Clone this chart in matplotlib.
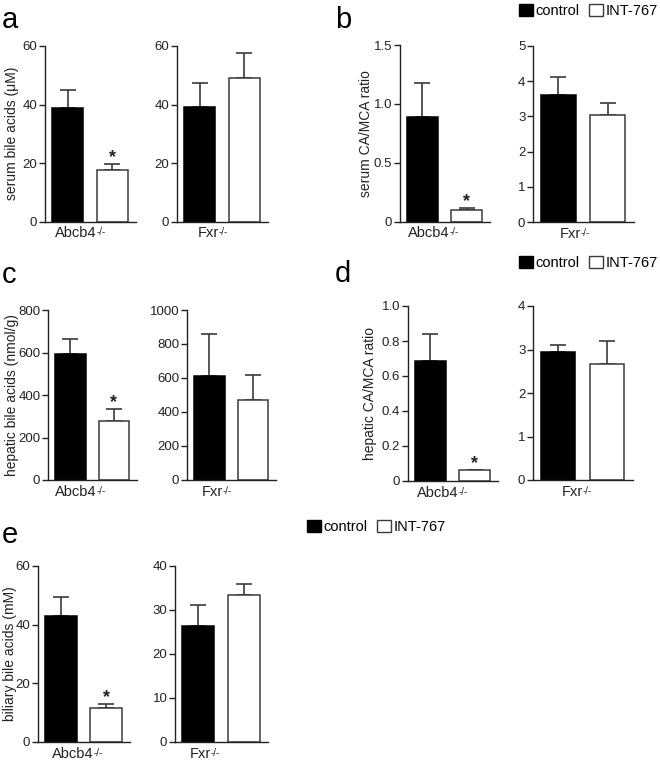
import numpy as np
import matplotlib
matplotlib.use("Agg")
import matplotlib.pyplot as plt
from matplotlib.patches import Patch

plt.rcParams['font.family'] = ['Liberation Sans', 'DejaVu Sans']

#Datos (media y error de cada grupo: control, INT-767)
treatments = ['control', 'INT-767']
strains = ['Abcb4', 'Fxr']
strain_sup = '-/-'

serum_ba_abcb4 = [38.8, 17.6]
serum_ba_abcb4_err = [6.0, 2.1]
serum_ba_fxr = [39.0, 49.2]
serum_ba_fxr_err = [8.3, 8.4]

serum_ratio_abcb4 = [0.89, 0.10]
serum_ratio_abcb4_err = [0.29, 0.017]
serum_ratio_fxr = [3.61, 3.05]
serum_ratio_fxr_err = [0.52, 0.32]

hepatic_ba_abcb4 = [595, 278]
hepatic_ba_abcb4_err = [70, 58]
hepatic_ba_fxr = [612, 472]
hepatic_ba_fxr_err = [245, 147]

hepatic_ratio_abcb4 = [0.685, 0.06]
hepatic_ratio_abcb4_err = [0.155, 0.004]
hepatic_ratio_fxr = [2.94, 2.67]
hepatic_ratio_fxr_err = [0.17, 0.52]

biliary_ba_abcb4 = [42.8, 11.5]
biliary_ba_abcb4_err = [6.6, 1.5]
biliary_ba_fxr = [26.4, 33.4]
biliary_ba_fxr_err = [4.7, 2.4]

W = 660
H = 761
fig = plt.figure(figsize=(W/100, H/100), dpi=100)

Ink = '#222222'
Edge = '#3a3a3a'
Positions = [0, 1.42]


def add_panel(x0, x1, top, bottom, values, errors, ymax, step, decimals,
              strain, label_left, ylabel=None, ylabel_x=None, star=False):
    ax = fig.add_axes([x0/W, 1 - bottom/H, (x1 - x0)/W, (bottom - top)/H])
    ax.bar(Positions, values, width=1.0, color=['black', 'white'],
           edgecolor=['black', Edge], linewidth=1.1, zorder=2)
    ax.errorbar(Positions, values, yerr=[[0, 0], errors], fmt='none',
                ecolor=Edge, elinewidth=1.2, capsize=6, capthick=1.2, zorder=1)
    if star:
        ax.annotate('*', xy=(Positions[1], values[1] + errors[1]),
                    xytext=(0, -1.5), textcoords='offset points',
                    ha='center', va='bottom', fontsize=13, fontweight='bold',
                    color=Ink)
    ax.set_xlim(-0.72, 2.17)
    ax.set_ylim(0, ymax)
    ticks = np.arange(0, ymax + step/2, step)
    ax.set_yticks(ticks)
    ax.set_yticklabels(['0' if t == 0 else ('%.' + str(decimals) + 'f') % t for t in ticks])
    ax.set_xticks([])
    ax.tick_params(axis='y', length=4, width=1.0, pad=1.5, labelsize=9.5, colors=Ink)
    for s in ['top', 'right']:
        ax.spines[s].set_visible(False)
    for s in ['left', 'bottom']:
        ax.spines[s].set_linewidth(1.0)
        ax.spines[s].set_color(Ink)

    #Etiqueta de la cepa con superindice
    name = ax.annotate(strain, xy=((label_left - x0)/(x1 - x0), 0), xycoords='axes fraction',
                       xytext=(0, -3.5), textcoords='offset points',
                       ha='left', va='top', fontsize=10.5, color=Ink)
    ax.annotate(strain_sup, xy=(0.99, 0.92), xycoords=name, ha='left', va='top',
                fontsize=7, color=Ink)

    if ylabel is not None:
        ax.set_ylabel(ylabel, fontsize=10, color=Ink)
        ax.yaxis.set_label_coords((ylabel_x - x0)/(x1 - x0), 0.5)
    return ax


def add_legend(x, y):
    handles = [Patch(facecolor='black', edgecolor='black', linewidth=1.0),
               Patch(facecolor='white', edgecolor=Edge, linewidth=1.0)]
    fig.legend(handles, treatments, loc='center left', bbox_to_anchor=(x/W, 1 - y/H),
               ncol=2, frameon=False, fontsize=10.5, handlelength=0.95, handleheight=0.95,
               handletextpad=0.2, columnspacing=0.6, borderpad=0, borderaxespad=0)


def panel_letter(x, y, letter):
    fig.text(x/W, 1 - y/H, letter, fontsize=21, color='black', va='baseline', ha='left')


#a
panel_letter(2, 28, 'a')
add_panel(45, 136, 46, 221.5, serum_ba_abcb4, serum_ba_abcb4_err, 60, 20, 0,
          strains[0], 55, ylabel='serum bile acids (\u03bcM)', ylabel_x=19, star=True)
add_panel(177, 268, 46, 221.5, serum_ba_fxr, serum_ba_fxr_err, 60, 20, 0,
          strains[1], 198)

#b
panel_letter(335, 28, 'b')
add_legend(519, 11)
add_panel(400, 490, 45, 221.5, serum_ratio_abcb4, serum_ratio_abcb4_err, 1.5, 0.5, 1,
          strains[0], 408, ylabel='serum CA/MCA ratio', ylabel_x=373, star=True)
add_panel(533, 634, 46, 222, serum_ratio_fxr, serum_ratio_fxr_err, 5, 1, 0,
          strains[1], 560)

#c
panel_letter(2, 283, 'c')
add_panel(48, 137, 310, 480, hepatic_ba_abcb4, hepatic_ba_abcb4_err, 800, 200, 0,
          strains[0], 55, ylabel='hepatic bile acids (nmol/g)', ylabel_x=19, star=True)
add_panel(187, 276, 310, 480, hepatic_ba_fxr, hepatic_ba_fxr_err, 1000, 200, 0,
          strains[1], 202)

#d
panel_letter(335, 282, 'd')
add_legend(519, 263)
add_panel(408, 498, 306, 481, hepatic_ratio_abcb4, hepatic_ratio_abcb4_err, 1.0, 0.2, 1,
          strains[0], 417, ylabel='hepatic CA/MCA ratio', ylabel_x=377, star=True)
add_panel(533, 633, 306, 480, hepatic_ratio_fxr, hepatic_ratio_fxr_err, 4, 1, 0,
          strains[1], 562)

#e
panel_letter(2, 543, 'e')
add_legend(307, 527)
add_panel(38, 130, 566, 742, biliary_ba_abcb4, biliary_ba_abcb4_err, 60, 20, 0,
          strains[0], 52, ylabel='biliary bile acids (mM)', ylabel_x=17, star=True)
add_panel(175, 268, 566, 742, biliary_ba_fxr, biliary_ba_fxr_err, 40, 10, 0,
          strains[1], 190)

fig.savefig('out.png', dpi=100)
